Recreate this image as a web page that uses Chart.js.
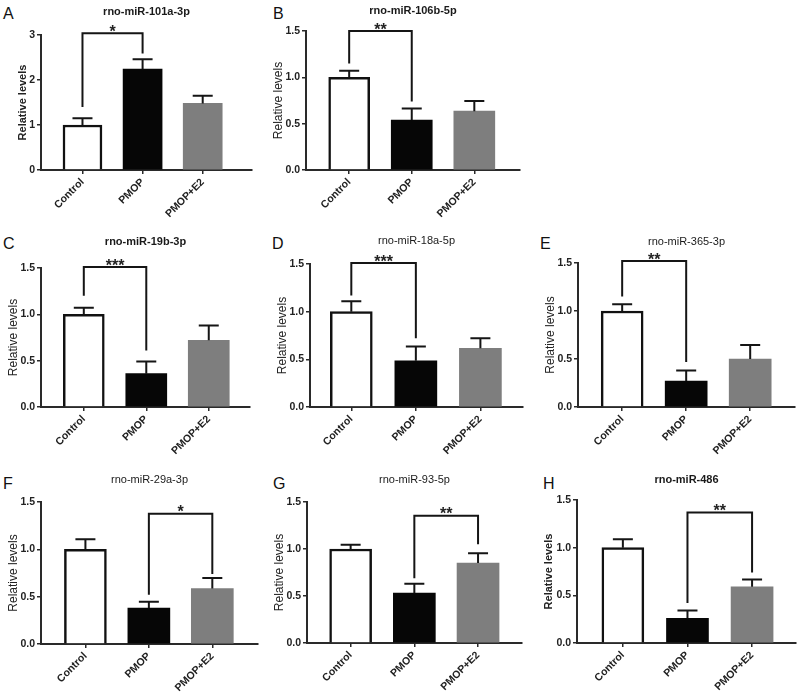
<!DOCTYPE html>
<html><head><meta charset="utf-8">
<script src="https://cdn.jsdelivr.net/npm/chart.js@4.4.0/dist/chart.umd.min.js"></script>
<style>
html,body{margin:0;padding:0;background:#fff;width:800px;height:699px;overflow:hidden;}
body{position:relative;}
canvas{position:absolute;}
.lbl{position:absolute;font-family:"Liberation Sans",Arial,sans-serif;font-size:16px;line-height:16px;color:#111;}
</style></head><body>
<script>
// ---- data ----
const categories = ["Control", "PMOP", "PMOP+E2"];
const panelLetters = ["A", "B", "C", "D", "E", "F", "G", "H"];
const titles = ["rno-miR-101a-3p", "rno-miR-106b-5p", "rno-miR-19b-3p", "rno-miR-18a-5p",
                "rno-miR-365-3p", "rno-miR-29a-3p", "rno-miR-93-5p", "rno-miR-486"];
const means = [
  [1.0, 2.24, 1.48],
  [1.0, 0.54, 0.635],
  [1.0, 0.36, 0.72],
  [1.0, 0.485, 0.615],
  [1.0, 0.27, 0.50],
  [1.0, 0.38, 0.586],
  [1.0, 0.53, 0.85],
  [1.0, 0.26, 0.59]
];
const errors = [
  [0.15, 0.22, 0.17],
  [0.07, 0.125, 0.11],
  [0.07, 0.13, 0.16],
  [0.11, 0.15, 0.105],
  [0.07, 0.11, 0.145],
  [0.107, 0.066, 0.11],
  [0.045, 0.10, 0.105],
  [0.087, 0.08, 0.075]
];
const yMax = [3, 1.5, 1.5, 1.5, 1.5, 1.5, 1.5, 1.5];
const yStep = [1, 0.5, 0.5, 0.5, 0.5, 0.5, 0.5, 0.5];
const bracketPairs = [[0,1],[0,1],[0,1],[0,1],[0,1],[1,2],[1,2],[1,2]];
const bracketTop = [3.04, 1.5, 1.51, 1.51, 1.52, 1.375, 1.355, 1.37];
const bracketLegs = [[1.4,2.59],[1.15,0.74],[1.2,0.61],[1.17,0.72],[1.15,0.47],[0.52,0.74],[0.69,1.05],[0.42,0.74]];
const stars = ["*", "**", "***", "***", "**", "*", "**", "**"];

// ---- layout (positions / styles) ----
const layout = [
  {L:40.5, R:252, T:35,  B:170, yw:28, xmin:-0.69, xmax:2.82, bw:39, tg:23, tb:true,  yb:true,  lx:3,   ly:6},
  {L:306,  R:520, T:31,  B:169.5, yw:38, xmin:-0.69, xmax:2.73, bw:41, tg:20, tb:true,  yb:false, lx:273, ly:6},
  {L:40.7, R:250, T:268.3, B:406.7, yw:38, xmin:-0.685, xmax:2.66, bw:41, tg:26, tb:true,  yb:false, lx:3,   ly:236},
  {L:310,  R:523, T:264.3, B:406.7, yw:38, xmin:-0.64, xmax:2.66, bw:42, tg:23, tb:false, yb:false, lx:272, ly:236},
  {L:578.3,R:795, T:263.3, B:406.7, yw:38, xmin:-0.69, xmax:2.70, bw:42, tg:21, tb:false, yb:false, lx:540, ly:236},
  {L:41,   R:258, T:502.3, B:643.5, yw:38, xmin:-0.70, xmax:2.72, bw:42, tg:22, tb:false, yb:false, lx:3,   ly:476},
  {L:307.3,R:521.7,T:502.3, B:643.3, yw:38, xmin:-0.685, xmax:2.69, bw:42, tg:22, tb:false, yb:false, lx:273, ly:476},
  {L:576.7,R:796, T:500,  B:643.3, yw:38, xmin:-0.71, xmax:2.68, bw:42, tg:20, tb:true,  yb:true,  lx:543, ly:476}
];
const FONT = '"Liberation Sans", Arial, Helvetica, sans-serif';
const barColors = ["#ffffff", "#060606", "#7e7e7e"];
const barBorders = ["#111111", "#060606", "#7e7e7e"];
const INK = "#222222";
const PAD_TOP = 34, X_H = 56, PAD_R = 4;

Chart.defaults.font.family = FONT;
Chart.defaults.color = INK;

const decor = {
  id: 'decor',
  afterDatasetsDraw(chart, args, opts) {
    const p = opts.p, lo = layout[p];
    const {ctx, chartArea} = chart;
    const x = chart.scales.x, y = chart.scales.y;
    ctx.save();
    ctx.strokeStyle = '#151515';
    ctx.lineWidth = 2;
    ctx.lineCap = 'butt';
    means[p].forEach((m, i) => {
      const cx = x.getPixelForValue(i);
      const y1 = y.getPixelForValue(m);
      const y2 = y.getPixelForValue(m + errors[p][i]);
      ctx.beginPath();
      ctx.moveTo(cx, y1); ctx.lineTo(cx, y2);
      ctx.moveTo(cx - 10, y2); ctx.lineTo(cx + 10, y2);
      ctx.stroke();
    });
    const [a, b] = bracketPairs[p];
    const xa = x.getPixelForValue(a), xb = x.getPixelForValue(b);
    const yt = y.getPixelForValue(bracketTop[p]);
    ctx.lineJoin = 'miter';
    ctx.beginPath();
    ctx.moveTo(xa, y.getPixelForValue(bracketLegs[p][0]));
    ctx.lineTo(xa, yt); ctx.lineTo(xb, yt);
    ctx.lineTo(xb, y.getPixelForValue(bracketLegs[p][1]));
    ctx.stroke();
    ctx.fillStyle = INK;
    ctx.font = 'bold 16px ' + FONT;
    ctx.textAlign = 'center';
    ctx.textBaseline = 'alphabetic';
    ctx.fillText(stars[p], (xa + xb) / 2, yt + 3.5);
    ctx.font = (lo.tb ? 'bold ' : '') + '11px ' + FONT;
    ctx.textBaseline = 'middle';
    ctx.fillStyle = '#1a1a1a';
    ctx.fillText(titles[p], (chartArea.left + chartArea.right) / 2, chartArea.top - lo.tg);
    ctx.restore();
  }
};

layout.forEach((lo, p) => {
  const cl = Math.round(lo.L - lo.yw);
  const ct = Math.round(lo.T - PAD_TOP);
  const cw = Math.round(lo.R) - cl + PAD_R;
  const ch = Math.round(lo.B) - ct + X_H;
  const yw = Math.round(lo.L) - cl;

  const letter = document.createElement('div');
  letter.className = 'lbl';
  letter.style.left = lo.lx + 'px';
  letter.style.top = lo.ly + 'px';
  letter.textContent = panelLetters[p];
  document.body.appendChild(letter);

  const cv = document.createElement('canvas');
  cv.width = cw; cv.height = ch;
  cv.style.left = cl + 'px'; cv.style.top = ct + 'px';
  cv.style.width = cw + 'px'; cv.style.height = ch + 'px';
  document.body.appendChild(cv);

  const dec = yStep[p] < 1 ? 1 : 0;
  new Chart(cv, {
    type: 'bar',
    data: {
      datasets: [{
        data: means[p].map((v, i) => ({x: i, y: v})),
        backgroundColor: barColors,
        borderColor: barBorders,
        borderWidth: [2.5, 0, 0],
        borderSkipped: 'bottom',
        barThickness: lo.bw
      }]
    },
    options: {
      responsive: false,
      devicePixelRatio: 1,
      animation: false,
      layout: {padding: {left: 0, top: PAD_TOP, right: PAD_R, bottom: 0}},
      plugins: {legend: {display: false}, tooltip: {enabled: false}, title: {display: false}, decor: {p}},
      scales: {
        x: {
          type: 'linear',
          min: lo.xmin, max: lo.xmax,
          offset: false,
          afterBuildTicks: s => { s.ticks = [0, 1, 2].map(v => ({value: v})); },
          afterFit: s => { s.height = X_H; },
          grid: {offset: false, drawOnChartArea: false, drawTicks: true, tickLength: 4, color: '#2a2a2a', lineWidth: 1.5},
          border: {display: true, color: '#2a2a2a', width: 2},
          ticks: {
            autoSkip: false, minRotation: 45, maxRotation: 45, padding: 2,
            color: INK, font: {size: 10.5, weight: 'bold'},
            callback: v => categories[v] ?? ''
          }
        },
        y: {
          min: 0, max: yMax[p],
          afterFit: s => { s.width = yw; },
          grid: {drawOnChartArea: false, drawTicks: true, tickLength: 4, color: '#2a2a2a', lineWidth: 1.5},
          border: {display: true, color: '#2a2a2a', width: 2},
          ticks: {stepSize: yStep[p], padding: 2, color: INK, font: {size: 10.5, weight: 'bold'},
                  callback: v => Number(v).toFixed(dec)},
          title: {display: true, text: 'Relative levels', color: INK,
                  font: {size: lo.yb ? 11 : 12, weight: lo.yb ? 'bold' : 'normal'}, padding: {top: 3, bottom: 4}}
        }
      }
    },
    plugins: [decor]
  });
});
</script>
</body></html>
